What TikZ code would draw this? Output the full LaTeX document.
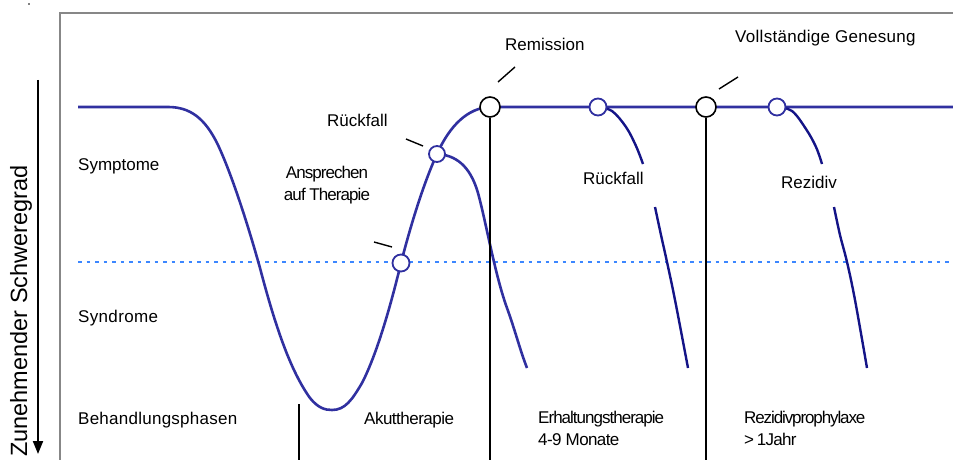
\documentclass[tikz,border=0pt]{standalone}
\usepackage{fontspec}
\setmainfont{Liberation Sans}
\usetikzlibrary{arrows.meta}
\definecolor{mainblue}{RGB}{48,48,160}
\definecolor{darkblue}{RGB}{20,20,135}
\definecolor{dotblue}{RGB}{60,135,255}
\definecolor{framegray}{RGB}{135,135,135}
\tikzset{
  lbl/.style={inner sep=0pt, font=\fontsize{17}{20}\selectfont},
  sq/.style={font=\fontsize{17}{20}\selectfont\addfontfeature{LetterSpace=#1}},
  bcirc/.style={circle, draw=mainblue, fill=white, line width=1.8pt, inner sep=0pt},
  kcirc/.style={circle, draw=black, fill=white, line width=1.6pt, inner sep=0pt},
  curve/.style={mainblue, line width=2.6pt},
  relapse/.style={darkblue, line width=2.4pt},
  leader/.style={black, line width=1.4pt},
  vline/.style={black, line width=1.7pt},
}
\begin{document}
\begin{tikzpicture}[x=1pt,y=-1pt]
\useasboundingbox (0,0) rectangle (953,460);
% frame
\draw[framegray, line width=2pt] (60,460) -- (60,13) -- (953,13);
\fill (29,4) circle (0.8pt);
% axis arrow
\coordinate (axtop) at (38,80);
\coordinate (axbot) at (38,454);
\draw[line width=2pt, -{Triangle[length=13pt,width=10pt]}] (axtop) -- (axbot);
\node[lbl, rotate=90, font=\fontsize{23.5}{26}\selectfont] (axlbl) at (21,311) {Zunehmender Schweregrad};
% dotted threshold
\draw[dotblue, line width=2pt, dash pattern=on 3.5pt off 5pt] (78,262) -- (953,262);
% main curve
\draw[curve] (78,107) -- (168,107)
  .. controls (190,107) and (205,118) .. (218,145)
  .. controls (232,175) and (248,225) .. (260,268)
  .. controls (275,325) and (290,370) .. (310,398)
  .. controls (318,408) and (325,410) .. (332,410)
  .. controls (345,410) and (352,400) .. (362,383)
  .. controls (378,352) and (392,300) .. (401,263)
  .. controls (412,220) and (425,180) .. (437,154)
  .. controls (450,125) and (468,108) .. (490,107)
  -- (953,107);
% relapse branches
\draw[curve] (437,154) .. controls (455,155) and (470,165) .. (478,193)
  .. controls (486,222) and (495,275) .. (507,308)
  .. controls (515,330) and (520,350) .. (527,368);
\draw[relapse] plot[smooth, tension=0.6] coordinates {
  (598,107) (612,111) (626,127) (636,146) (643,164)};
\draw[relapse] plot[smooth, tension=0.6] coordinates {
  (655,207) (661,235) (667,262) (675,300) (688,368)};
\draw[relapse] plot[smooth, tension=0.6] coordinates {
  (777,107) (792,111) (806,129) (816,147) (822,164)};
\draw[relapse] plot[smooth, tension=0.6] coordinates {
  (834,207) (840,235) (847,262) (855,300) (867,368)};
% vertical phase lines
\coordinate (b1) at (490,460);
\coordinate (b2) at (706,460);
\coordinate (m0) at (299,404);
\coordinate (b0) at (299,460);
\draw[vline, line width=1.3pt] (m0) -- (b0);
% circles
\node[kcirc, minimum size=20pt] (rem) at (490,107) {};
\node[kcirc, minimum size=20pt] (gen) at (706,107) {};
\node[bcirc, minimum size=17pt] (ans) at (401,263) {};
\node[bcirc, minimum size=16pt] (rf1) at (437,154) {};
\node[bcirc, minimum size=17pt] (rf2) at (598,107) {};
\node[bcirc, minimum size=17pt] (rez) at (777,107) {};
\draw[vline] (rem.south) -- (b1);
\draw[vline] (gen.south) -- (b2);
% leaders
\coordinate (lr1) at (498,82);  \coordinate (lr2) at (515,67);
\coordinate (lg1) at (719,89);  \coordinate (lg2) at (738,77);
\coordinate (lf1) at (406,139); \coordinate (lf2) at (423,146);
\coordinate (la1) at (374,242); \coordinate (la2) at (392,247);
\draw[leader] (lr1) -- (lr2);
\draw[leader] (lg1) -- (lg2);
\draw[leader] (lf1) -- (lf2);
\draw[leader] (la1) -- (la2);
% labels
\node[lbl, anchor=base west] (tRem) at (505,51) {Remission};
\node[lbl, sq=1.7, anchor=base west] (tGen) at (735,43) {Vollständige Genesung};
\node[lbl, anchor=base west] (tRf1) at (327,126) {Rückfall};
\node[lbl, sq=-5.5, anchor=base, align=center] (tAns) at (327,200) {Ansprechen\\[2pt]auf Therapie};
\node[lbl, anchor=base west] (tRf2) at (583,184) {Rückfall};
\node[lbl, anchor=base west] (tRez) at (781,188) {Rezidiv};
\node[lbl, anchor=base west] (tSym) at (78,170) {Symptome};
\node[lbl, sq=2, anchor=base west] (tSyn) at (78,322) {Syndrome};
\node[lbl, sq=1.5, anchor=base west] (tBeh) at (78,424) {Behandlungsphasen};
\node[lbl, sq=-3, anchor=base west] (tAku) at (364,424) {Akuttherapie};
\node[lbl, sq=-5.8, anchor=base west] (tErh) at (538,423) {Erhaltungstherapie};
\node[lbl, sq=-3.5, anchor=base west] (tErh2) at (538,445) {4-9 Monate};
\node[lbl, sq=-6.5, anchor=base west] (tRpx) at (744,423) {Rezidivprophylaxe};
\node[lbl, sq=-4.5, anchor=base west] (tRpx2) at (744,445) {>\,1Jahr};
\end{tikzpicture}
\end{document}
